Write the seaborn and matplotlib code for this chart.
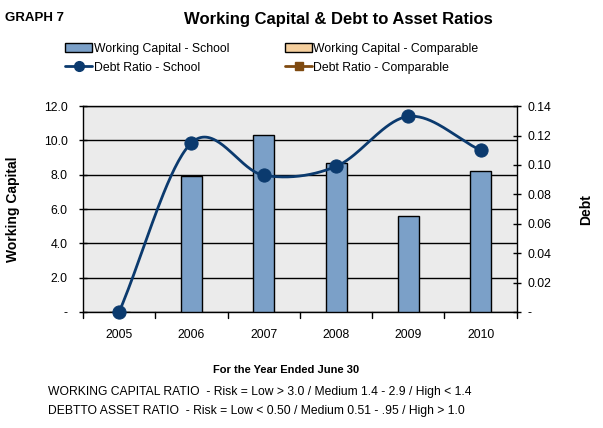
import numpy as np
import pandas as pd
import matplotlib
matplotlib.use("Agg")
import matplotlib.pyplot as plt
import seaborn as sns
from matplotlib.patches import Patch
from matplotlib.lines import Line2D

years = ["2005", "2006", "2007", "2008", "2009", "2010"]
working_capital = [0.0, 7.9, 10.3, 8.7, 5.6, 8.2]
debt_ratio = [0.0, 0.115, 0.093, 0.099, 0.133, 0.110]
left_ticks = [0, 2, 4, 6, 8, 10, 12]
left_labels = ["-", "2.0", "4.0", "6.0", "8.0", "10.0", "12.0"]
right_ticks = [0, 0.02, 0.04, 0.06, 0.08, 0.10, 0.12, 0.14]
right_labels = ["-", "0.02", "0.04", "0.06", "0.08", "0.10", "0.12", "0.14"]

sns.set_theme(style="white")
plt.rcParams['font.family'] = ['Liberation Sans', 'DejaVu Sans']
plt.rcParams['text.color'] = 'black'
plt.rcParams['xtick.color'] = 'black'
plt.rcParams['ytick.color'] = 'black'
plt.rcParams['axes.labelcolor'] = 'black'

fig = plt.figure(figsize=(6.03, 4.28), dpi=100)
ax = fig.add_axes([0.1376, 0.271, 0.7194, 0.481])
ax.set_facecolor("#EBEBEB")

df = pd.DataFrame({"year": years, "wc": working_capital, "debt": debt_ratio})
sns.barplot(data=df, x="year", y="wc", ax=ax, color="#7BA0C8", width=0.29,
            edgecolor="black", linewidth=1.0, saturation=1, zorder=3)
ax.set_ylim(0, 12)
ax.set_xlim(-0.5, 5.5)
ax.set_yticks(left_ticks)
ax.set_yticklabels(left_labels, fontsize=8.8)
ax.yaxis.grid(True, color="black", linewidth=1.0, zorder=0)
ax.set_axisbelow(True)
ax.set_xticks(range(len(years)))
ax.set_xticklabels(years, fontsize=8.8)
ax.tick_params(axis="x", length=0, pad=12)
ax.tick_params(axis="y", direction="inout", length=6, width=1, color="black", left=True, pad=8)
for b in np.arange(-0.5, 5.6, 1.0):
    ax.plot([b, b], [0, -0.35], color="black", lw=1, clip_on=False, zorder=5)
ax.set_xlabel("")
ax.set_ylabel("Working Capital", fontsize=10, fontweight="bold", labelpad=17)
for s in ax.spines.values():
    s.set_color("black")
    s.set_linewidth(1.0)
    s.set_visible(True)

ax2 = ax.twinx()
ax2.set_ylim(0, 0.14)
ax2.set_yticks(right_ticks)
ax2.set_yticklabels(right_labels, fontsize=8.8)
ax2.tick_params(axis="y", direction="inout", length=6, width=1, color="black", right=True, pad=5)
ax2.set_ylabel("Debt", fontsize=10, fontweight="bold", labelpad=20)
for s in ax2.spines.values():
    s.set_visible(False)

# smooth (Catmull-Rom) rendering of the debt line through the data points
xs = np.arange(len(years), dtype=float)
ys = np.array(debt_ratio)
px = np.concatenate([[2*xs[0]-xs[1]], xs, [2*xs[-1]-xs[-2]]])
py = np.concatenate([[2*ys[0]-ys[1]], ys, [2*ys[-1]-ys[-2]]])
cx, cy = [], []
t = np.linspace(0, 1, 40)
for i in range(1, len(px)-2):
    p0, p1, p2, p3 = px[i-1], px[i], px[i+1], px[i+2]
    q0, q1, q2, q3 = py[i-1], py[i], py[i+1], py[i+2]
    cx.append(0.5*((2*p1) + (-p0+p2)*t + (2*p0-5*p1+4*p2-p3)*t**2 + (-p0+3*p1-3*p2+p3)*t**3))
    cy.append(0.5*((2*q1) + (-q0+q2)*t + (2*q0-5*q1+4*q2-q3)*t**2 + (-q0+3*q1-3*q2+q3)*t**3))
ax2.plot(np.concatenate(cx), np.concatenate(cy), color="#0B3A6E", lw=2, zorder=4, clip_on=False)
sns.scatterplot(x=xs, y=ys, ax=ax2, color="#0B3A6E", s=90, edgecolor="#0B3A6E",
                zorder=5, clip_on=False, legend=False)
ax2.set_xlim(-0.5, 5.5)

fig.text(0.008, 0.958, "GRAPH 7", fontsize=9.5, fontweight="bold", ha="left", va="center")
fig.text(0.561, 0.955, "Working Capital & Debt to Asset Ratios", fontsize=12,
         fontweight="bold", ha="center", va="center")

handles = [
    Patch(facecolor="#7BA0C8", edgecolor="black", label="Working Capital - School"),
    Patch(facecolor="#F5CF9E", edgecolor="black", label="Working Capital - Comparable"),
    Line2D([0], [0], color="#0B3A6E", lw=2, marker="o", markersize=7, label="Debt Ratio - School"),
    Line2D([0], [0], color="#7F4A10", lw=2, marker="s", markersize=6, label="Debt Ratio - Comparable"),
]
order = [handles[0], handles[2], handles[1], handles[3]]
fig.legend(handles=order, loc="center", bbox_to_anchor=(0.451, 0.864), ncol=2,
           frameon=False, fontsize=8.8, handlelength=2.2, handletextpad=0.1,
           columnspacing=4.6, labelspacing=0.55, handleheight=0.8)

fig.text(0.474, 0.136, "For the Year Ended June 30", fontsize=8, fontweight="bold",
         ha="center", va="center")
fig.text(0.079, 0.084, "WORKING CAPITAL RATIO  - Risk = Low > 3.0 / Medium 1.4 - 2.9 / High < 1.4",
         fontsize=8.7, ha="left", va="center")
fig.text(0.079, 0.040, "DEBTTO ASSET RATIO  - Risk = Low < 0.50 / Medium 0.51 - .95 / High > 1.0",
         fontsize=8.7, ha="left", va="center")

fig.savefig("out.png", dpi=100)
